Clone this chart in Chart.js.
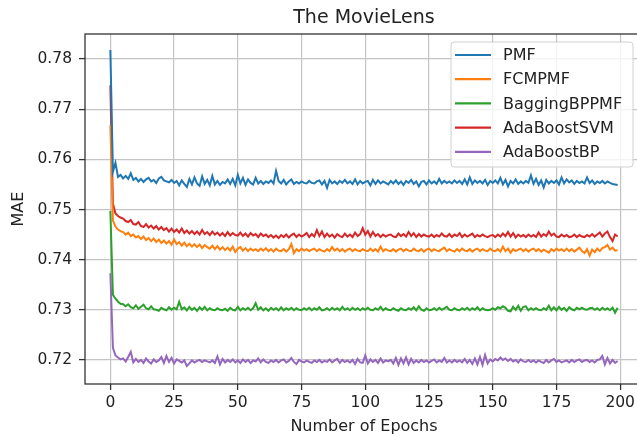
<!DOCTYPE html>
<html>
<head>
<meta charset="utf-8">
<script src="https://cdn.jsdelivr.net/npm/chart.js@4"></script>
<style>
  html, body { margin: 0; padding: 0; overflow: hidden; background: #fff; }
  canvas { display: block; }
</style>
</head>
<body>
<canvas id="mae" width="645" height="436"></canvas>
<script>
const epochs = Array.from({length: 200}, (_, i) => i);

const pmf = [
  0.7818,0.7575,0.7593,0.7565,0.7569,0.7562,0.7567,0.7561,0.7572,0.7559,
  0.7563,0.7556,0.7561,0.7555,0.7560,0.7563,0.7556,0.7559,0.7553,0.7562,
  0.7565,0.7558,0.7556,0.7554,0.7559,0.7553,0.7557,0.7548,0.7558,0.7551,
  0.7545,0.7561,0.7550,0.7564,0.7552,0.7547,0.7566,0.7551,0.7559,0.7548,
  0.7567,0.7550,0.7557,0.7549,0.7555,0.7552,0.7560,0.7551,0.7561,0.7548,
  0.7569,0.7552,0.7563,0.7549,0.7560,0.7553,0.7550,0.7563,0.7552,0.7557,
  0.7551,0.7556,0.7553,0.7558,0.7552,0.7577,0.7557,0.7552,0.7559,0.7550,
  0.7556,0.7560,0.7551,0.7555,0.7552,0.7556,0.7553,0.7552,0.7557,0.7553,
  0.7552,0.7556,0.7558,0.7550,0.7557,0.7543,0.7559,0.7552,0.7556,0.7551,
  0.7557,0.7553,0.7559,0.7552,0.7556,0.7551,0.7560,0.7550,0.7557,0.7552,
  0.7555,0.7557,0.7548,0.7559,0.7551,0.7558,0.7552,0.7556,0.7553,0.7550,
  0.7557,0.7552,0.7558,0.7551,0.7556,0.7549,0.7557,0.7553,0.7559,0.7551,
  0.7556,0.7546,0.7555,0.7557,0.7550,0.7558,0.7552,0.7556,0.7551,0.7561,
  0.7552,0.7557,0.7553,0.7556,0.7552,0.7558,0.7553,0.7557,0.7551,0.7560,
  0.7550,0.7564,0.7551,0.7558,0.7553,0.7557,0.7552,0.7559,0.7549,0.7557,
  0.7553,0.7558,0.7552,0.7563,0.7550,0.7559,0.7546,0.7557,0.7552,0.7560,
  0.7551,0.7556,0.7552,0.7557,0.7553,0.7568,0.7551,0.7561,0.7549,0.7558,
  0.7544,0.7559,0.7552,0.7557,0.7553,0.7558,0.7550,0.7564,0.7552,0.7560,
  0.7554,0.7558,0.7551,0.7557,0.7553,0.7556,0.7552,0.7564,0.7553,0.7558,
  0.7551,0.7556,0.7553,0.7557,0.7552,0.7556,0.7553,0.7551,0.7550,0.7549
];

const fcmpmf = [
  0.7668,0.7478,0.7466,0.7460,0.7457,0.7455,0.7450,0.7454,0.7447,0.7450,
  0.7444,0.7447,0.7441,0.7446,0.7439,0.7443,0.7437,0.7442,0.7435,0.7440,
  0.7433,0.7438,0.7432,0.7437,0.7430,0.7440,0.7431,0.7435,0.7428,0.7434,
  0.7427,0.7432,0.7426,0.7431,0.7425,0.7430,0.7423,0.7429,0.7425,0.7422,
  0.7428,0.7421,0.7427,0.7420,0.7425,0.7419,0.7424,0.7418,0.7426,0.7415,
  0.7422,0.7425,0.7418,0.7423,0.7417,0.7422,0.7418,0.7421,0.7417,0.7422,
  0.7418,0.7423,0.7417,0.7421,0.7416,0.7422,0.7418,0.7417,0.7421,0.7416,
  0.7421,0.7431,0.7413,0.7421,0.7417,0.7422,0.7418,0.7421,0.7417,0.7420,
  0.7422,0.7417,0.7421,0.7418,0.7416,0.7421,0.7417,0.7425,0.7418,0.7422,
  0.7417,0.7421,0.7416,0.7420,0.7422,0.7417,0.7421,0.7418,0.7417,0.7421,
  0.7418,0.7417,0.7422,0.7417,0.7421,0.7416,0.7426,0.7417,0.7421,0.7418,
  0.7417,0.7421,0.7416,0.7420,0.7422,0.7417,0.7421,0.7418,0.7417,0.7422,
  0.7418,0.7417,0.7421,0.7416,0.7420,0.7422,0.7417,0.7421,0.7418,0.7417,
  0.7421,0.7424,0.7417,0.7421,0.7418,0.7416,0.7421,0.7417,0.7422,0.7418,
  0.7417,0.7421,0.7416,0.7420,0.7422,0.7417,0.7421,0.7418,0.7417,0.7422,
  0.7418,0.7417,0.7421,0.7416,0.7426,0.7417,0.7422,0.7414,0.7421,0.7417,
  0.7420,0.7422,0.7417,0.7421,0.7416,0.7420,0.7422,0.7417,0.7421,0.7416,
  0.7420,0.7417,0.7414,0.7421,0.7417,0.7422,0.7418,0.7421,0.7417,0.7422,
  0.7417,0.7421,0.7416,0.7420,0.7424,0.7417,0.7413,0.7421,0.7408,0.7420,
  0.7415,0.7422,0.7417,0.7423,0.7425,0.7429,0.7420,0.7424,0.7418,0.7419
];

const baggingBPPMF = [
  0.7497,0.7330,0.7322,0.7316,0.7312,0.7311,0.7307,0.7311,0.7305,0.7303,
  0.7309,0.7302,0.7306,0.7310,0.7303,0.7301,0.7307,0.7301,0.7300,0.7298,
  0.7304,0.7301,0.7299,0.7305,0.7300,0.7304,0.7301,0.7316,0.7301,0.7305,
  0.7299,0.7306,0.7300,0.7304,0.7298,0.7305,0.7300,0.7306,0.7299,0.7303,
  0.7300,0.7299,0.7303,0.7300,0.7299,0.7302,0.7298,0.7304,0.7300,0.7299,
  0.7306,0.7299,0.7303,0.7300,0.7304,0.7299,0.7303,0.7313,0.7300,0.7305,
  0.7299,0.7303,0.7298,0.7304,0.7300,0.7303,0.7299,0.7305,0.7299,0.7303,
  0.7300,0.7304,0.7299,0.7303,0.7300,0.7299,0.7303,0.7300,0.7304,0.7299,
  0.7303,0.7300,0.7305,0.7299,0.7300,0.7303,0.7299,0.7304,0.7300,0.7303,
  0.7299,0.7306,0.7300,0.7303,0.7299,0.7304,0.7300,0.7303,0.7299,0.7303,
  0.7300,0.7304,0.7300,0.7299,0.7303,0.7300,0.7306,0.7299,0.7303,0.7300,
  0.7299,0.7303,0.7300,0.7298,0.7303,0.7300,0.7299,0.7303,0.7300,0.7305,
  0.7299,0.7307,0.7300,0.7298,0.7303,0.7299,0.7300,0.7303,0.7299,0.7304,
  0.7300,0.7303,0.7306,0.7300,0.7299,0.7303,0.7300,0.7299,0.7303,0.7300,
  0.7304,0.7299,0.7303,0.7300,0.7305,0.7299,0.7303,0.7300,0.7299,0.7300,
  0.7303,0.7300,0.7305,0.7303,0.7307,0.7304,0.7298,0.7297,0.7306,0.7300,
  0.7308,0.7298,0.7306,0.7307,0.7299,0.7303,0.7300,0.7303,0.7300,0.7299,
  0.7303,0.7300,0.7308,0.7299,0.7305,0.7299,0.7306,0.7300,0.7304,0.7298,
  0.7305,0.7301,0.7299,0.7304,0.7301,0.7304,0.7301,0.7300,0.7303,0.7304,
  0.7300,0.7303,0.7299,0.7304,0.7300,0.7303,0.7299,0.7304,0.7294,0.7304
];

const adaBoostSVM = [
  0.7748,0.7512,0.7492,0.7487,0.7484,0.7482,0.7477,0.7475,0.7479,0.7471,
  0.7470,0.7475,0.7467,0.7465,0.7471,0.7464,0.7468,0.7462,0.7467,0.7460,
  0.7465,0.7459,0.7463,0.7456,0.7462,0.7455,0.7460,0.7454,0.7462,0.7453,
  0.7458,0.7452,0.7457,0.7451,0.7456,0.7450,0.7459,0.7451,0.7455,0.7449,
  0.7456,0.7450,0.7454,0.7448,0.7453,0.7447,0.7455,0.7448,0.7453,0.7449,
  0.7448,0.7454,0.7447,0.7452,0.7446,0.7453,0.7448,0.7451,0.7445,0.7452,
  0.7447,0.7450,0.7445,0.7449,0.7444,0.7448,0.7443,0.7449,0.7445,0.7450,
  0.7444,0.7449,0.7452,0.7445,0.7450,0.7446,0.7449,0.7453,0.7445,0.7451,
  0.7446,0.7459,0.7447,0.7456,0.7445,0.7452,0.7446,0.7450,0.7444,0.7451,
  0.7447,0.7445,0.7452,0.7446,0.7450,0.7445,0.7454,0.7447,0.7451,0.7463,
  0.7450,0.7457,0.7446,0.7455,0.7447,0.7451,0.7445,0.7450,0.7446,0.7449,
  0.7450,0.7446,0.7445,0.7452,0.7447,0.7451,0.7446,0.7455,0.7447,0.7453,
  0.7445,0.7451,0.7446,0.7450,0.7447,0.7446,0.7450,0.7445,0.7449,0.7446,
  0.7452,0.7447,0.7446,0.7451,0.7445,0.7450,0.7447,0.7453,0.7445,0.7450,
  0.7446,0.7449,0.7452,0.7445,0.7449,0.7446,0.7450,0.7447,0.7445,0.7448,
  0.7449,0.7445,0.7450,0.7446,0.7452,0.7447,0.7455,0.7446,0.7453,0.7444,
  0.7450,0.7446,0.7449,0.7445,0.7450,0.7446,0.7449,0.7445,0.7454,0.7446,
  0.7451,0.7447,0.7456,0.7448,0.7452,0.7446,0.7445,0.7450,0.7446,0.7449,
  0.7445,0.7446,0.7450,0.7445,0.7449,0.7446,0.7445,0.7449,0.7446,0.7451,
  0.7446,0.7450,0.7454,0.7446,0.7452,0.7456,0.7445,0.7437,0.7450,0.7446
];

const adaBoostBP = [
  0.7373,0.7224,0.7209,0.7205,0.7201,0.7203,0.7197,0.7206,0.7216,0.7195,
  0.7202,0.7196,0.7200,0.7194,0.7203,0.7197,0.7193,0.7201,0.7196,0.7199,
  0.7206,0.7194,0.7208,0.7196,0.7204,0.7193,0.7201,0.7198,0.7195,0.7199,
  0.7188,0.7193,0.7199,0.7195,0.7198,0.7200,0.7196,0.7199,0.7197,0.7195,
  0.7199,0.7194,0.7207,0.7191,0.7202,0.7195,0.7200,0.7196,0.7201,0.7195,
  0.7199,0.7194,0.7201,0.7196,0.7200,0.7194,0.7199,0.7197,0.7203,0.7195,
  0.7201,0.7196,0.7194,0.7199,0.7196,0.7200,0.7195,0.7199,0.7201,0.7195,
  0.7198,0.7204,0.7196,0.7192,0.7200,0.7197,0.7195,0.7199,0.7196,0.7194,
  0.7199,0.7196,0.7200,0.7195,0.7198,0.7196,0.7201,0.7195,0.7199,0.7202,
  0.7194,0.7200,0.7196,0.7199,0.7195,0.7200,0.7192,0.7202,0.7195,0.7194,
  0.7209,0.7193,0.7201,0.7196,0.7200,0.7194,0.7203,0.7195,0.7199,0.7197,
  0.7200,0.7193,0.7204,0.7190,0.7203,0.7193,0.7205,0.7191,0.7202,0.7194,
  0.7199,0.7195,0.7200,0.7196,0.7199,0.7195,0.7198,0.7201,0.7195,0.7199,
  0.7196,0.7204,0.7195,0.7199,0.7195,0.7200,0.7196,0.7199,0.7195,0.7202,
  0.7194,0.7200,0.7192,0.7203,0.7191,0.7206,0.7190,0.7210,0.7193,0.7201,
  0.7197,0.7202,0.7199,0.7205,0.7200,0.7203,0.7198,0.7202,0.7197,0.7200,
  0.7195,0.7201,0.7197,0.7196,0.7200,0.7196,0.7199,0.7195,0.7199,0.7196,
  0.7194,0.7200,0.7195,0.7199,0.7202,0.7196,0.7199,0.7195,0.7197,0.7199,
  0.7195,0.7200,0.7196,0.7199,0.7201,0.7196,0.7199,0.7200,0.7196,0.7199,
  0.7195,0.7200,0.7201,0.7208,0.7191,0.7204,0.7193,0.7200,0.7194,0.7198
];

const seriesNames = ['PMF', 'FCMPMF', 'BaggingBPPMF', 'AdaBoostSVM', 'AdaBoostBP'];
const seriesValues = [pmf, fcmpmf, baggingBPPMF, adaBoostSVM, adaBoostBP];
const seriesColors = ['#1f77b4', '#ff7f0e', '#2ca02c', '#d62728', '#9467bd'];

const xTicks = [0, 25, 50, 75, 100, 125, 150, 175, 200];
const yTicks = [0.72, 0.73, 0.74, 0.75, 0.76, 0.77, 0.78];
const chartTitle = 'The MovieLens';

const FONT = '"DejaVu Sans", sans-serif';
Chart.defaults.font.family = FONT;
Chart.defaults.color = '#222';

// matplotlib-like frame around the axes
const frame = {
  id: 'frame',
  afterDatasetsDraw(chart) {
    const {ctx, chartArea: a} = chart;
    ctx.save();
    ctx.strokeStyle = '#333';
    ctx.lineWidth = 1.3;
    ctx.strokeRect(a.left, a.top, a.right - a.left, a.bottom - a.top);
    ctx.restore();
  }
};

// title centred over the axes, not the canvas
const axesTitle = {
  id: 'axesTitle',
  afterDraw(chart) {
    const {ctx, chartArea: a} = chart;
    ctx.save();
    ctx.font = '19px ' + FONT;
    ctx.fillStyle = '#222';
    ctx.textAlign = 'center';
    ctx.textBaseline = 'middle';
    ctx.fillText(chartTitle, (a.left + a.right) / 2, a.top - 16);
    ctx.restore();
  }
};

// legend box in the upper right of the axes
const boxLegend = {
  id: 'boxLegend',
  afterDraw(chart) {
    const {ctx, chartArea: a} = chart;
    const w = 182, h = 125;
    const left = a.right - 10 - w, top = a.top + 8;
    ctx.save();
    ctx.beginPath();
    ctx.roundRect(left, top, w, h, 3);
    ctx.fillStyle = 'rgba(255,255,255,0.8)';
    ctx.fill();
    ctx.strokeStyle = '#d0d0d0';
    ctx.lineWidth = 1;
    ctx.stroke();
    ctx.font = '16px ' + FONT;
    ctx.textBaseline = 'middle';
    chart.data.datasets.forEach((ds, i) => {
      const y = top + 13 + i * 24.2;
      ctx.beginPath();
      ctx.moveTo(left + 4, y);
      ctx.lineTo(left + 40, y);
      ctx.strokeStyle = ds.borderColor;
      ctx.lineWidth = 2.2;
      ctx.stroke();
      ctx.fillStyle = '#222';
      ctx.fillText(ds.label, left + 52, y + 1);
    });
    ctx.restore();
  }
};

const gridStyle = {
  color: '#c4c4c4',
  lineWidth: 1.2,
  tickLength: 6,
  tickColor: '#333',
  tickWidth: 1.3
};

new Chart(document.getElementById('mae'), {
  type: 'line',
  data: {
    datasets: seriesNames.map((name, i) => ({
      label: name,
      data: seriesValues[i].map((v, j) => ({x: epochs[j], y: v})),
      borderColor: seriesColors[i],
      backgroundColor: seriesColors[i],
      borderWidth: 2,
      pointRadius: 0,
      tension: 0,
      fill: false
    }))
  },
  options: {
    responsive: false,
    animation: false,
    devicePixelRatio: 1,
    layout: { padding: { left: 0, right: 2, top: 34, bottom: 0 } },
    plugins: {
      legend: { display: false },
      tooltip: { enabled: false },
      title: { display: false }
    },
    scales: {
      x: {
        type: 'linear',
        min: -9.95,
        max: 208.95,
        afterBuildTicks: s => { s.ticks = xTicks.map(v => ({value: v})); },
        afterFit: s => { s.height = 52; },
        grid: gridStyle,
        border: { display: false },
        ticks: { font: { size: 15.5 }, padding: 4, maxRotation: 0, autoSkip: false, callback: v => String(v) },
        title: { display: true, text: 'Number of Epochs', font: { size: 16 }, padding: { top: 0, bottom: 0 } }
      },
      y: {
        min: 0.7152,
        max: 0.785,
        afterBuildTicks: s => { s.ticks = yTicks.map(v => ({value: v})); },
        afterFit: s => { s.width = 85; },
        grid: gridStyle,
        border: { display: false },
        ticks: { font: { size: 15.5 }, padding: 7, autoSkip: false, callback: v => v.toFixed(2) },
        title: { display: true, text: 'MAE', font: { size: 16 }, padding: { top: 9, bottom: 0 } }
      }
    }
  },
  plugins: [frame, axesTitle, boxLegend]
});
</script>
</body>
</html>
